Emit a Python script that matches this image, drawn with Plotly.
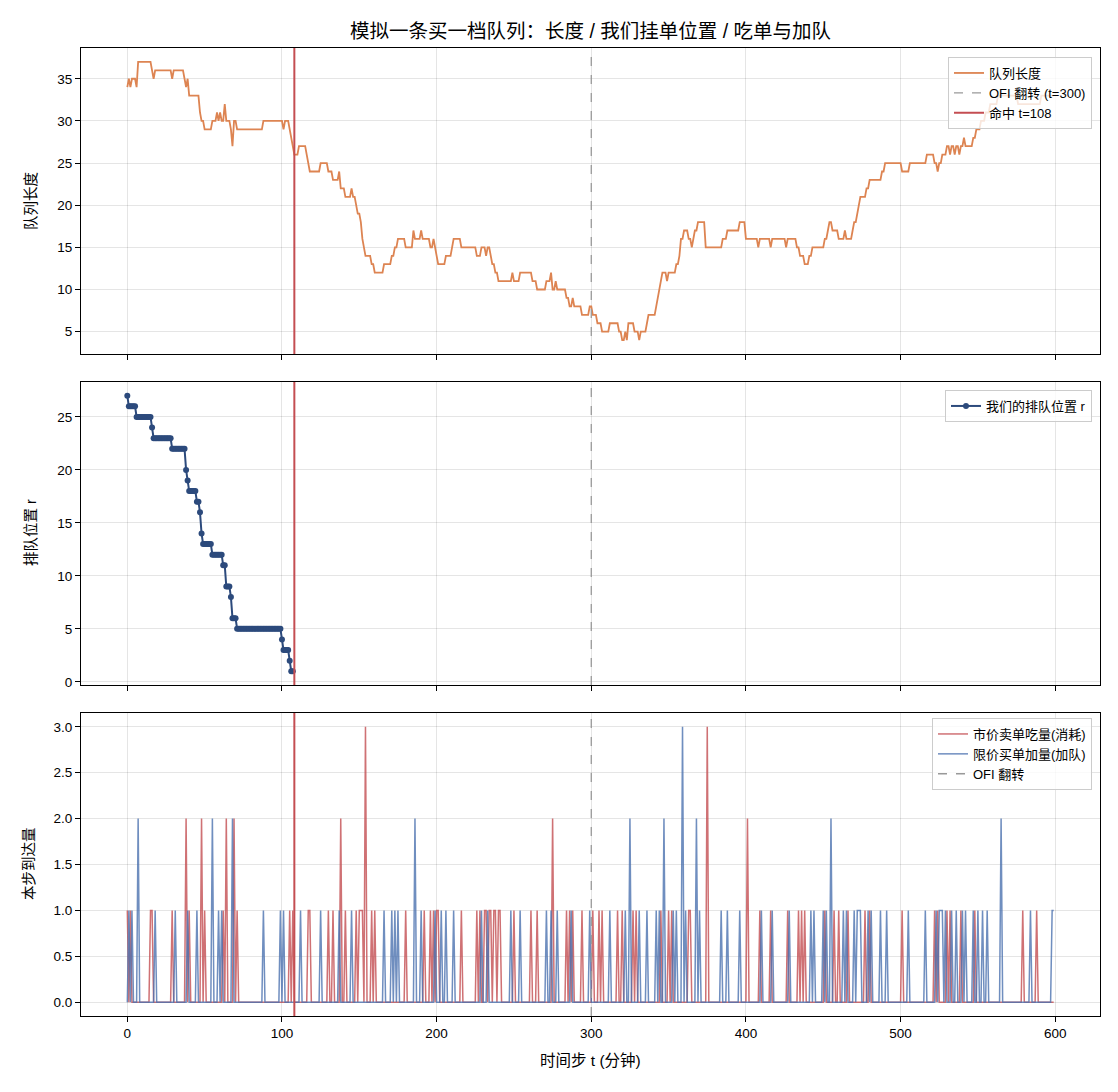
import numpy as np
import plotly.graph_objects as go
from plotly.subplots import make_subplots

T = 600
flip_t = 300
hit_t = 108

# ---- queue length: step change times and levels ----
q_change_t = [0, 1, 2, 3, 6, 7, 16, 17, 18, 29, 30, 37, 38, 39, 40, 47, 48, 50, 55, 58, 59, 60, 61, 63, 64,
              67, 68, 69, 71, 88, 101, 102, 105, 106, 107, 108, 111, 116, 117, 118, 125, 130, 133, 137, 138,
              141, 145, 146, 148, 149, 151, 152, 153, 154, 158, 160, 166, 171, 173, 175, 180, 185, 186, 190,
              191, 196, 198, 199, 200, 201, 206, 210, 211, 216, 226, 229, 232, 233, 235, 236, 238, 240, 249,
              250, 254, 262, 265, 271, 274, 275, 277, 278, 284, 286, 288, 289, 294, 299, 301, 304, 307, 312,
              318, 320, 322, 323, 324, 328, 331, 332, 336, 337, 342, 343, 344, 345, 346, 349, 350, 355, 357,
              358, 360, 363, 365, 366, 367, 369, 374, 385, 388, 396, 400, 408, 409, 416, 417, 426, 427, 433,
              435, 438, 441, 443, 451, 453, 454, 456, 460, 464, 465, 469, 470, 472, 473, 474, 478, 480, 488,
              490, 501, 506, 517, 522, 524, 525, 527, 530, 532, 533, 535, 536, 538, 539, 541, 542, 547, 549,
              552, 555, 558, 563, 576, 591]
q_level = [34, 35, 34, 35, 34, 37, 36, 35, 36, 35, 36, 35, 34, 35, 33, 31, 30, 29, 30, 31, 30, 31, 30, 32, 30,
           29, 27, 30, 29, 30, 29, 30, 29, 28, 27, 26, 27, 26, 25, 24, 25, 24, 23, 24, 22,
           21, 22, 21, 20, 19, 18, 16, 15, 14, 13, 12, 13, 14, 15, 16, 15, 17, 16, 17,
           16, 15, 16, 15, 14, 13, 14, 15, 16, 15, 14, 15, 14, 15, 14, 13, 12, 11, 12,
           11, 12, 11, 10, 11, 12, 10, 11, 10, 9, 8, 9, 8, 7, 8, 7, 6, 5, 6,
           5, 4, 5, 4, 6, 5, 4, 5, 6, 7, 8, 9, 10, 11, 12, 11, 12, 13, 14,
           16, 17, 16, 15, 16, 17, 18, 15, 16, 17, 18, 16, 15, 16, 15, 16, 15, 16, 15,
           14, 13, 14, 15, 16, 17, 18, 17, 16, 17, 16, 17, 18, 19, 20, 21, 22, 23, 24,
           25, 24, 25, 26, 25, 24, 25, 26, 27, 26, 27, 26, 27, 26, 27, 28, 27, 28, 29,
           30, 31, 32, 33, 32, 33]

# ---- our queue position r (until hit) ----
r_change_t = [0, 1, 6, 16, 17, 29, 38, 39, 40, 45, 47, 48, 49, 55, 62, 64, 67, 68, 71, 100, 101, 105, 106]
r_level = [27, 26, 25, 24, 23, 22, 20, 19, 18, 17, 16, 14, 13, 12, 11, 9, 8, 6, 5, 4, 3, 2, 1]
r_end = 108

# ---- per-step arrivals: market sells (consume) and limit buys (add) ----
sell_t = [0, 2, 15, 16, 29, 38, 40, 48, 50, 62, 64, 69, 71, 105, 107, 117, 118, 130, 133, 138, 141, 148, 150,
          151, 152, 154, 158, 160, 180, 192, 196, 198, 200, 201, 216, 226, 228, 231, 232, 234, 235, 237, 238,
          240, 241, 250, 261, 265, 275, 284, 286, 288, 294, 301, 305, 307, 317, 320, 327, 329, 345, 350, 352,
          363, 364, 375, 401, 409, 416, 427, 434, 436, 438, 451, 457, 460, 466, 477, 480, 501, 522, 524, 530,
          532, 539, 548, 579, 588]
sell_q = [1, 1, 1, 1, 1, 2, 1, 2, 1, 1, 2, 2, 1, 1, 1, 1, 1, 1, 1, 2, 1, 1, 1,
          1, 1, 3, 1, 1, 1, 1, 1, 1, 1, 1, 1, 1, 1, 1, 1, 1, 1, 1, 1,
          1, 1, 1, 1, 1, 2, 1, 1, 1, 1, 1, 1, 1, 1, 1, 1, 1, 1, 1, 1,
          1, 1, 3, 2, 1, 1, 1, 1, 1, 1, 1, 1, 1, 1, 1, 1, 1, 1, 1, 1,
          1, 1, 1, 1, 1]
add_t = [1, 3, 7, 18, 31, 39, 45, 55, 59, 61, 68, 88, 99, 101, 112, 125, 137, 145, 166, 171, 173, 175, 186,
         190, 199, 203, 206, 211, 229, 233, 248, 254, 271, 274, 278, 287, 299, 312, 322, 325, 331, 336, 342,
         344, 347, 353, 355, 359, 361, 368, 370, 384, 388, 396, 410, 417, 428, 442, 444, 450, 452, 455, 463,
         465, 470, 472, 473, 474, 479, 481, 487, 491, 505, 516, 523, 525, 526, 527, 529, 533, 536, 540, 542,
         547, 550, 553, 556, 565, 584, 598, 599]
add_q = [1, 1, 2, 1, 1, 1, 1, 2, 1, 1, 2, 1, 1, 1, 1, 1, 1, 1, 1, 1, 1, 1, 2,
         1, 1, 1, 1, 1, 1, 1, 1, 1, 1, 1, 1, 1, 1, 1, 1, 2, 1, 1, 1,
         1, 2, 1, 1, 3, 1, 2, 1, 1, 1, 1, 1, 1, 1, 1, 1, 1, 1, 2, 1,
         1, 1, 1, 1, 1, 1, 1, 1, 1, 1, 1, 1, 1, 1, 1, 1, 1, 1, 1, 1,
         1, 1, 1, 1, 2, 1, 1, 1]

# ---- decode ----
steps = np.arange(T)
queue = np.repeat(q_level, np.diff(q_change_t + [T]))
r_steps = np.arange(r_end)
r_pos = np.repeat(r_level, np.diff(r_change_t + [r_end]))
sells = np.zeros(T)
sells[sell_t] = sell_q
adds = np.zeros(T)
adds[add_t] = add_q

ORANGE = "#dd8452"
RED = "#c44e52"
NAVY = "#2c4a7c"
BLUE = "#4c72b0"
GREY = "#999999"
FONT = "Liberation Sans, Arial, Noto Sans CJK SC, sans-serif"

fig = make_subplots(rows=3, cols=1, shared_xaxes=True)

yr = {1: [2.35, 38.65], 2: [-0.3, 28.3], 3: [-0.15, 3.15]}

# top panel
fig.add_trace(go.Scatter(x=steps, y=queue, mode="lines", name="队列长度",
                         line=dict(color=ORANGE, width=1.8), legend="legend"), row=1, col=1)
fig.add_trace(go.Scatter(x=[flip_t, flip_t], y=yr[1], mode="lines", name="OFI 翻转 (t=300)",
                         line=dict(color=GREY, width=1.3, dash="dash"), legend="legend"), row=1, col=1)
fig.add_trace(go.Scatter(x=[hit_t, hit_t], y=yr[1], mode="lines", name="命中 t=108",
                         line=dict(color=RED, width=2), legend="legend"), row=1, col=1)

# middle panel
fig.add_trace(go.Scatter(x=r_steps, y=r_pos, mode="lines+markers", name="我们的排队位置 r",
                         line=dict(color=NAVY, width=2), marker=dict(color=NAVY, size=6),
                         legend="legend2"), row=2, col=1)
fig.add_trace(go.Scatter(x=[flip_t, flip_t], y=yr[2], mode="lines", showlegend=False,
                         line=dict(color=GREY, width=1.3, dash="dash")), row=2, col=1)
fig.add_trace(go.Scatter(x=[hit_t, hit_t], y=yr[2], mode="lines", showlegend=False,
                         line=dict(color=RED, width=2)), row=2, col=1)

# bottom panel
fig.add_trace(go.Scatter(x=steps, y=sells, mode="lines", name="市价卖单吃量(消耗)", opacity=0.8,
                         line=dict(color=RED, width=1.5), legend="legend3"), row=3, col=1)
fig.add_trace(go.Scatter(x=steps, y=adds, mode="lines", name="限价买单加量(加队)", opacity=0.8,
                         line=dict(color=BLUE, width=1.5), legend="legend3"), row=3, col=1)
fig.add_trace(go.Scatter(x=[flip_t, flip_t], y=yr[3], mode="lines", name="OFI 翻转",
                         line=dict(color=GREY, width=1.3, dash="dash"), legend="legend3"), row=3, col=1)
fig.add_trace(go.Scatter(x=[hit_t, hit_t], y=yr[3], mode="lines", showlegend=False,
                         line=dict(color=RED, width=2)), row=3, col=1)

L, R, TOP, BOT = 81, 1100, 48, 1016
H = BOT - TOP
def dom(y0, y1):
    return [(BOT - y1) / H, (BOT - y0) / H]

doms = {1: dom(48, 354), 2: dom(382, 685), 3: dom(713, 1016)}
axis_common = dict(showline=True, linecolor="black", linewidth=1, mirror=True,
                   ticks="outside", ticklen=5, tickcolor="black",
                   showgrid=True, gridcolor="rgba(0,0,0,0.1)", gridwidth=1, zeroline=False,
                   tickfont=dict(size=13.5, color="black", family=FONT))
for i in (1, 2, 3):
    fig.update_xaxes(range=[-29.95, 628.95], tick0=0, dtick=100, showticklabels=(i == 3),
                     row=i, col=1, **axis_common)
    fig.update_yaxes(range=yr[i], domain=doms[i], row=i, col=1, **axis_common)
fig.update_yaxes(tick0=5, dtick=5, row=1, col=1)
fig.update_yaxes(tick0=0, dtick=5, row=2, col=1)
fig.update_yaxes(tick0=0, dtick=0.5, tickformat=".1f", row=3, col=1)

def px_to_paper_y(py):
    return (BOT - py) / H

legend_common = dict(bgcolor="rgba(255,255,255,0.8)", bordercolor="#cccccc", borderwidth=1,
                     font=dict(size=13, family=FONT, color="black"), xanchor="right", yanchor="top",
                     x=(1092 - L) / (R - L), tracegroupgap=2)
fig.update_layout(
    width=1118, height=1092,
    margin=dict(l=L, r=1118 - R, t=TOP, b=1092 - BOT),
    paper_bgcolor="white", plot_bgcolor="white",
    font=dict(family=FONT, color="black"),
    title=dict(text="模拟一条买一档队列：长度 / 我们挂单位置 / 吃单与加队", x=0.5, xref="paper",
               y=1 - 31 / 1092, yanchor="middle", font=dict(size=19.5, family=FONT)),
    legend=dict(y=px_to_paper_y(57), **legend_common),
    legend2=dict(y=px_to_paper_y(390), **legend_common),
    legend3=dict(y=px_to_paper_y(718), **legend_common),
)

ann = [
    ("队列长度", (31 - L) / (R - L), px_to_paper_y(201)),
    ("排队位置 r", (31 - L) / (R - L), px_to_paper_y(533)),
    ("本步到达量", (29 - L) / (R - L), px_to_paper_y(864)),
]
for text, ax, ay in ann:
    fig.add_annotation(text=text, x=ax, y=ay, xref="paper", yref="paper", textangle=-90,
                       showarrow=False, xanchor="center", yanchor="middle",
                       font=dict(size=14.5, family=FONT, color="black"))
fig.add_annotation(text="时间步 t (分钟)", x=0.5, y=px_to_paper_y(1060), xref="paper", yref="paper",
                   showarrow=False, xanchor="center", yanchor="middle",
                   font=dict(size=15.5, family=FONT, color="black"))

fig.write_html("out.html")
